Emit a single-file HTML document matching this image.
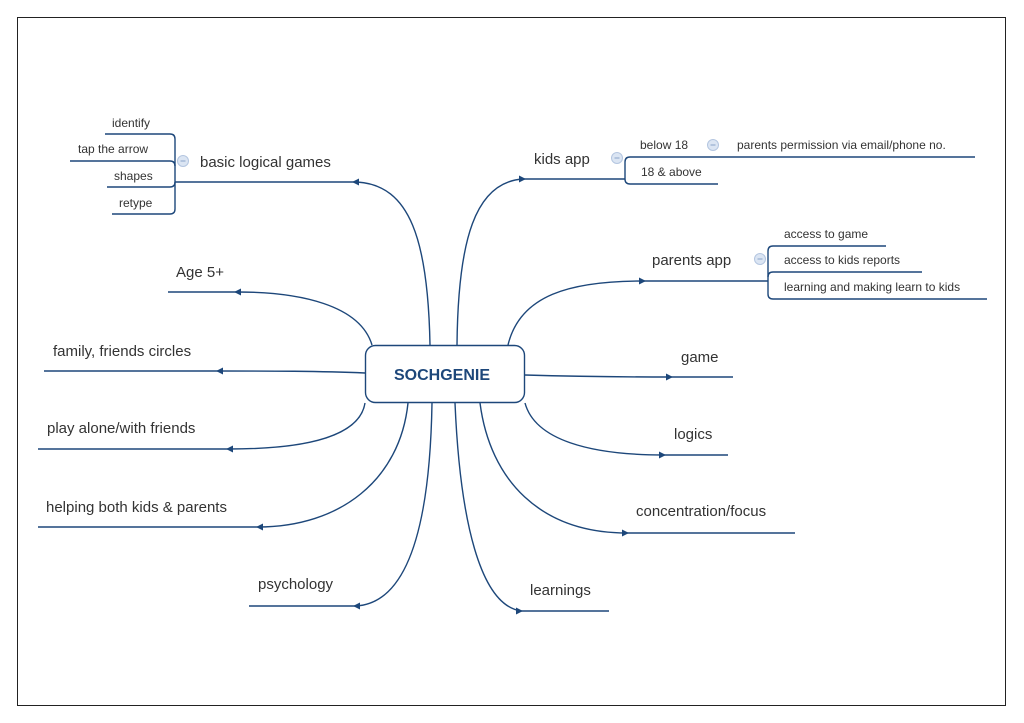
<!DOCTYPE html>
<html><head><meta charset="utf-8"><style>
html,body{margin:0;padding:0;background:#fff;}
svg{display:block;}
text{font-family:"Liberation Sans",sans-serif;fill:#333;}
.l{fill:none;stroke:#1d477a;stroke-width:1.4;}
.a{fill:#1d477a;}
.s{font-size:12px;}
.m{font-size:15px;}
</style></head><body>
<svg width="1024" height="723" viewBox="0 0 1024 723">
<rect x="17.5" y="17.5" width="988" height="688" fill="#fff" stroke="#222" stroke-width="1"/>
<rect x="365.5" y="345.5" width="159" height="57" rx="10" fill="#fff" stroke="#1d477a" stroke-width="1.4"/>
<text x="442" y="380" text-anchor="middle" style="font-size:16px;font-weight:bold;fill:#1d477a">SOCHGENIE</text>

<path class="l" d="M430 345 C428 240 410 185 357 182 L175 182"/>
<polygon class="a" points="352,182 359,178.5 359,185.5"/>
<text class="m" x="200" y="167">basic logical games</text>
<circle cx="183" cy="161" r="5.5" fill="#dbe5f3" stroke="#b4c6e0"/><line x1="180.5" y1="161" x2="185.5" y2="161" stroke="#8aa4c8"/>
<path class="l" d="M105 134 H170 Q175 134 175 139 V209 Q175 214 170 214 H112"/>
<path class="l" d="M70 161 H170 Q175 161 175 166"/>
<path class="l" d="M107 187 H170 Q175 187 175 182"/>
<text class="s" x="112" y="127">identify</text>
<text class="s" x="78" y="153">tap the arrow</text>
<text class="s" x="114" y="180">shapes</text>
<text class="s" x="119" y="207">retype</text>

<path class="l" d="M457 345 C458 240 475 182 523 179 L625 179"/>
<polygon class="a" points="526,179 519,175.5 519,182.5"/>
<text class="m" x="534" y="164">kids app</text>
<circle cx="617" cy="158" r="5.5" fill="#dbe5f3" stroke="#b4c6e0"/><line x1="614.5" y1="158" x2="619.5" y2="158" stroke="#8aa4c8"/>
<path class="l" d="M975 157 H630 Q625 157 625 162 V179 M625 179 V179 Q625 184 630 184 H718"/>
<text class="s" x="640" y="149">below 18</text>
<circle cx="713" cy="145" r="5.5" fill="#dbe5f3" stroke="#b4c6e0"/><line x1="710.5" y1="145" x2="715.5" y2="145" stroke="#8aa4c8"/>
<text class="s" x="737" y="149">parents permission via email/phone no.</text>
<text class="s" x="641" y="176">18 &amp; above</text>

<path class="l" d="M508 345 C520 295 570 281 643 281 L768 281"/>
<polygon class="a" points="646,281 639,277.5 639,284.5"/>
<text class="m" x="652" y="265">parents app</text>
<circle cx="760" cy="259" r="5.5" fill="#dbe5f3" stroke="#b4c6e0"/><line x1="757.5" y1="259" x2="762.5" y2="259" stroke="#8aa4c8"/>
<path class="l" d="M886 246 H773 Q768 246 768 251 V294 Q768 299 773 299 H987"/>
<path class="l" d="M922 272 H773 Q768 272 768 277"/>
<text class="s" x="784" y="238">access to game</text>
<text class="s" x="784" y="264">access to kids reports</text>
<text class="s" x="784" y="291">learning and making learn to kids</text>

<path class="l" d="M525 375 C560 376 620 377 671 377 L733 377"/>
<polygon class="a" points="673,377 666,373.5 666,380.5"/>
<text class="m" x="681" y="362">game</text>

<path class="l" d="M525 403 C535 440 590 455 664 455 L728 455"/>
<polygon class="a" points="666,455 659,451.5 659,458.5"/>
<text class="m" x="674" y="439">logics</text>

<path class="l" d="M480 403 C490 480 540 533 627 533 L795 533"/>
<polygon class="a" points="629,533 622,529.5 622,536.5"/>
<text class="m" x="636" y="516">concentration/focus</text>

<path class="l" d="M455 403 C460 520 480 605 521 611 L609 611"/>
<polygon class="a" points="523,611 516,607.5 516,614.5"/>
<text class="m" x="530" y="595">learnings</text>

<path class="l" d="M432 403 C430 520 410 603 356 606 L249 606"/>
<polygon class="a" points="353,606 360,602.5 360,609.5"/>
<text class="m" x="258" y="589">psychology</text>

<path class="l" d="M408 403 C400 480 340 527 258 527 L38 527"/>
<polygon class="a" points="256,527 263,523.5 263,530.5"/>
<text class="m" x="46" y="512">helping both kids &amp; parents</text>

<path class="l" d="M365 403 C360 435 310 449 229 449 L38 449"/>
<polygon class="a" points="226,449 233,445.5 233,452.5"/>
<text class="m" x="47" y="433">play alone/with friends</text>

<path class="l" d="M365 373 C320 371 270 371 218 371 L44 371"/>
<polygon class="a" points="216,371 223,367.5 223,374.5"/>
<text class="m" x="53" y="356">family, friends circles</text>

<path class="l" d="M372 345 C360 305 300 292 237 292 L168 292"/>
<polygon class="a" points="234,292 241,288.5 241,295.5"/>
<text class="m" x="176" y="277">Age 5+</text>
</svg>
</body></html>
